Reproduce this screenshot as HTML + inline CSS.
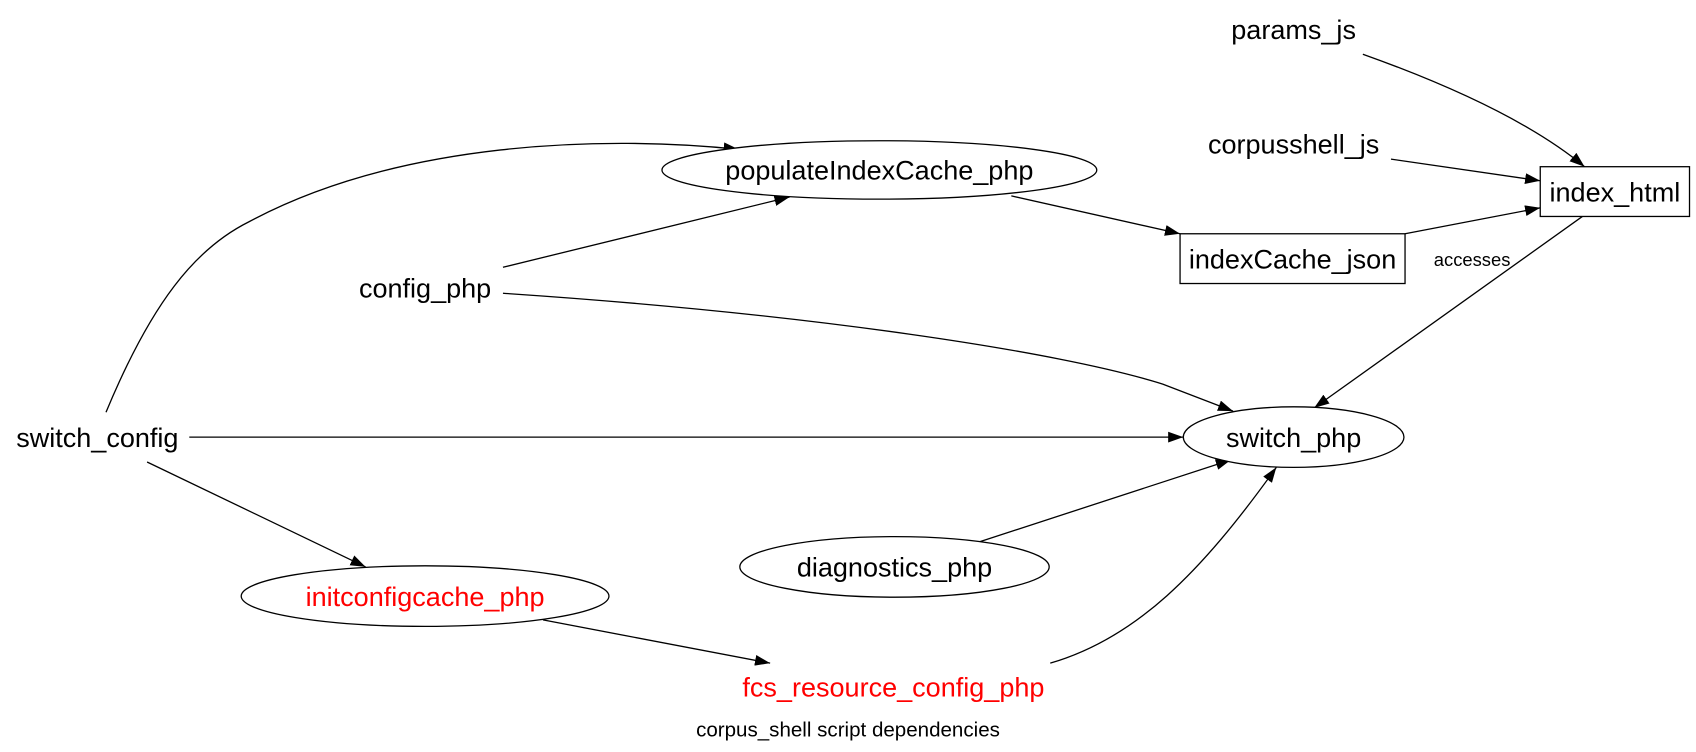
<!DOCTYPE html>
<html><head><style>html,body{margin:0;padding:0;background:#fff}svg{display:block}</style></head>
<body>
<svg width="1696" height="752" viewBox="0 0 1568 695" xmlns="http://www.w3.org/2000/svg" font-family="'Liberation Sans', Arial, sans-serif">
<defs>
<marker id="a" markerWidth="14" markerHeight="10" refX="14" refY="5" orient="auto" markerUnits="userSpaceOnUse">
<path d="M0,0 L14,5 L0,10 Z" fill="#000"/>
</marker>
</defs>
<g fill="none" stroke="#000" stroke-width="1.2">
<path d="M1260,50 Q1400,100 1465,154" marker-end="url(#a)"/>
<path d="M1286,147 L1424,167" marker-end="url(#a)"/>
<path d="M1299,216 L1424,192" marker-end="url(#a)"/>
<path d="M1463,200 L1215,377" marker-end="url(#a)"/>
<path d="M935,181 L1091,216" marker-end="url(#a)"/>
<path d="M465,247 L730,182" marker-end="url(#a)"/>
<path d="M98,381 C140,280 180,230 230,205 C370,130 560,125 683,138" marker-end="url(#a)"/>
<path d="M465,271 C750,290 980,325 1075,355 L1140,380" marker-end="url(#a)"/>
<path d="M175,404 L1094,404" marker-end="url(#a)"/>
<path d="M136,427 L338,524" marker-end="url(#a)"/>
<path d="M905,501 L1138,425" marker-end="url(#a)"/>
<path d="M502,573 L712,613" marker-end="url(#a)"/>
<path d="M971,613 C1050,590 1110,530 1180,432" marker-end="url(#a)"/>
<rect x="1424" y="154" width="138" height="46" fill="#fff"/>
<rect x="1091" y="216" width="208" height="46" fill="#fff"/>
<ellipse cx="813" cy="157" rx="201" ry="27" fill="#fff"/>
<ellipse cx="1196" cy="404" rx="102" ry="28" fill="#fff"/>
<ellipse cx="827" cy="524" rx="143" ry="28" fill="#fff"/>
<ellipse cx="393" cy="551" rx="170" ry="28" fill="#fff"/>
</g>
<g font-size="25" text-anchor="middle" fill="#000">
<text x="1196" y="36">params_js</text>
<text x="1196" y="142">corpusshell_js</text>
<text x="1493" y="186">index_html</text>
<text x="813" y="166">populateIndexCache_php</text>
<text x="1195" y="248">indexCache_json</text>
<text x="393" y="275">config_php</text>
<text x="90" y="413">switch_config</text>
<text x="1196" y="413">switch_php</text>
<text x="827" y="533">diagnostics_php</text>
<text x="393" y="560" fill="#f00">initconfigcache_php</text>
<text x="826" y="644" fill="#f00">fcs_resource_config_php</text>
<text x="784" y="681" font-size="19">corpus_shell script dependencies</text>
<text x="1361" y="246" font-size="17">accesses</text>
</g>
</svg>
</body></html>
